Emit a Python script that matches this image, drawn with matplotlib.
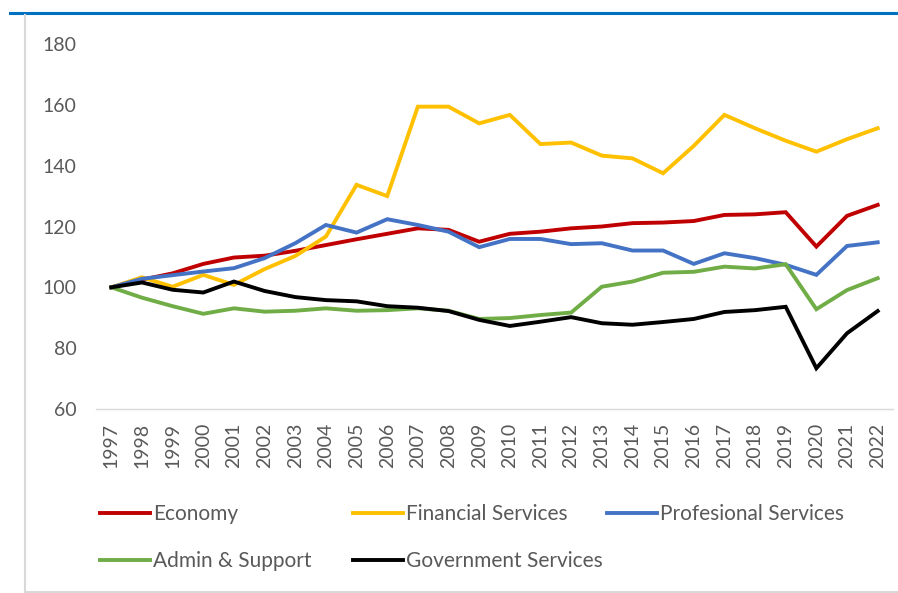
import matplotlib
matplotlib.use("Agg")
import matplotlib.pyplot as plt
from matplotlib.lines import Line2D

plt.rcParams['font.family'] = ['Lato', 'DejaVu Sans']

years = list(range(1997, 2023))

economy = [100, 102.5, 104.6, 107.7, 109.8, 110.4, 112.0, 113.9, 115.8, 117.6, 119.4, 118.9,
           115.0, 117.6, 118.3, 119.4, 120.0, 121.1, 121.3, 121.8, 123.8, 124.0, 124.7,
           113.4, 123.5, 127.1]
financial = [100, 103.3, 100.2, 104.1, 100.8, 106.0, 110.3, 116.7, 133.7, 130.0, 159.4, 159.4,
             153.9, 156.7, 147.1, 147.6, 143.3, 142.4, 137.5, 146.5, 156.7, 152.3, 148.2,
             144.6, 148.7, 152.3]
professional = [100, 102.8, 104.0, 105.2, 106.3, 109.6, 114.5, 120.5, 118.0, 122.4, 120.5, 118.3,
                113.2, 115.9, 115.9, 114.2, 114.5, 112.1, 112.1, 107.7, 111.2, 109.6, 107.4,
                104.1, 113.6, 114.8]
admin = [100, 96.6, 93.8, 91.3, 93.1, 92.0, 92.3, 93.1, 92.3, 92.5, 93.1, 92.3,
         89.6, 89.9, 90.9, 91.7, 100.2, 101.9, 104.8, 105.1, 106.8, 106.2, 107.6,
         92.8, 99.1, 103.0]
government = [100, 101.6, 99.2, 98.3, 101.9, 98.8, 96.8, 95.8, 95.4, 93.8, 93.3, 92.2,
              89.3, 87.3, 88.7, 90.2, 88.2, 87.7, 88.6, 89.6, 91.9, 92.5, 93.6,
              73.4, 84.9, 92.2]

series = [
    ("Economy", economy, "#C00000"),
    ("Financial Services", financial, "#FFC000"),
    ("Profesional Services", professional, "#4472C4"),
    ("Admin & Support", admin, "#70AD47"),
    ("Government Services", government, "#000000"),
]

text_color = "#595959"
W, H = 898, 593

fig = plt.figure(figsize=(W / 100, H / 100), dpi=100)
ax = fig.add_axes([96 / W, 1 - 409 / H, 797 / W, 365 / H])

lines = {}
for name, values, color in series:
    ln, = ax.plot(range(len(years)), values, color=color, lw=2.8,
                  solid_joinstyle='miter', label=name)
    lines[name] = ln

ax.set_xlim(-0.5, len(years) - 0.5)
ax.set_ylim(60, 180)
ax.set_yticks(range(60, 181, 20))
ax.set_xticks(range(len(years)))
ax.set_xticklabels([str(y) for y in years], rotation=90)

for side in ("top", "right", "left"):
    ax.spines[side].set_visible(False)
ax.spines["bottom"].set_color("#D9D9D9")
ax.spines["bottom"].set_linewidth(1)
ax.tick_params(axis='both', length=0, colors=text_color, labelsize=14)
ax.tick_params(axis='y', pad=14)
ax.tick_params(axis='x', pad=10)

# legend laid out in fixed-width columns
fs = 15
fs_px = fs * 100 / 72
legend_cols = [
    (100, ["Economy", "Admin & Support"]),
    (353, ["Financial Services", "Government Services"]),
    (607, ["Profesional Services"]),
]
for x0, names in legend_cols:
    fig.legend([lines[n] for n in names], names, loc='upper left',
               bbox_to_anchor=(x0 / W, 1 - 504 / H), frameon=False,
               fontsize=fs, labelcolor=text_color, borderpad=0, borderaxespad=0,
               handlelength=50 / fs_px, handletextpad=3 / fs_px, labelspacing=1.3)

# chart frame
fig.add_artist(Line2D([10 / W, 1], [1 - 13 / H] * 2, color="#0070C0", lw=2.2,
                      transform=fig.transFigure))
fig.add_artist(Line2D([25 / W, 25 / W], [1 - 15 / H, 1 - 592 / H], color="#D9D9D9", lw=1.5,
                      transform=fig.transFigure))
fig.add_artist(Line2D([25 / W, 1], [1 - 592 / H] * 2, color="#D9D9D9", lw=1.5,
                      transform=fig.transFigure))

fig.savefig("out.png", dpi=100)
